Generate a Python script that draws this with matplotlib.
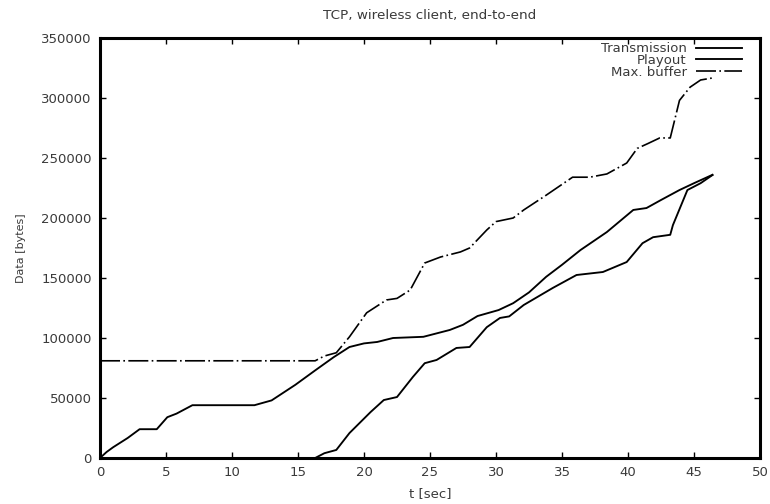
import matplotlib
matplotlib.use("Agg")
from matplotlib import pyplot as plt

# values (t in seconds, data in bytes)
trans_t = [0, 0.5, 1, 2.1, 3.0, 4.3, 5.1, 5.8, 7.0, 11.7, 13.0, 14.8, 16.3, 17.7,
           18.9, 20.0, 21.0, 22.2, 24.5, 26.5, 27.5, 28.6, 30.2, 31.3, 32.5, 33.8,
           35.0, 36.4, 38.4, 40.4, 41.4, 42.5, 43.9, 45.0, 46.4]
trans_v = [0, 5000, 9000, 16700, 24000, 24000, 34000, 37000, 44000, 44000, 48000,
           61000, 73000, 84000, 92500, 95500, 96700, 100000, 101000, 106700, 111000,
           118300, 123300, 129000, 138000, 151000, 161000, 173300, 188300, 206700,
           208300, 215000, 223300, 229000, 236000]

play_t = [16.3, 17.0, 17.9, 18.9, 20.5, 21.5, 22.5, 23.7, 24.6, 25.5, 27.0, 28.0,
          29.3, 30.3, 31.0, 32.1, 34.3, 36.1, 38.1, 39.9, 41.1, 41.9, 43.2, 43.4,
          44.5, 45.5, 46.4]
play_v = [0, 4000, 6700, 20800, 38300, 48300, 50800, 67500, 79000, 81700, 91700,
          92500, 109000, 116700, 118000, 127500, 141700, 152500, 155000, 163300,
          179000, 184000, 186000, 194000, 223300, 229000, 235800]

maxbuf_t = [0, 16.3, 17.0, 17.9, 18.9, 20.2, 21.7, 22.5, 23.5, 24.6, 25.8, 27.3,
            28.0, 29.3, 30.0, 31.3, 32.1, 33.8, 35.8, 37.1, 38.4, 39.9, 40.7, 41.5,
            42.4, 43.2, 43.9, 44.7, 45.5, 46.4]
maxbuf_v = [81000, 81000, 85000, 87700, 101000, 121000, 131700, 133000, 140000,
            162500, 167500, 171700, 175000, 190000, 197000, 200000, 206700, 219000,
            234000, 234000, 236700, 245800, 258000, 262000, 266700, 266700, 298000,
            309000, 315000, 316700]

x_ticks = list(range(0, 55, 5))
y_ticks = list(range(0, 350001, 50000))

plt.rcParams['font.family'] = ['DejaVu Sans']
plt.rcParams['font.size'] = 9.5
text_col = '#3a3a3a'

fig = plt.figure(figsize=(7.7, 5.04), dpi=100)
ax = fig.add_axes([100 / 770, 1 - 458 / 504, 660 / 770, 420 / 504])

ax.plot(trans_t, trans_v, color='black', lw=1.35, label='Transmission')
ax.plot(play_t, play_v, color='black', lw=1.35, label='Playout')
ax.plot(maxbuf_t, maxbuf_v, color='black', lw=1.2, dashes=(12, 2, 1, 2),
        label='Max. buffer')

ax.set_xlim(0, 50)
ax.set_ylim(0, 350000)
ax.set_xticks(x_ticks)
ax.set_yticks(y_ticks)
ax.set_xticklabels([str(v) for v in x_ticks])
ax.set_yticklabels([str(v) for v in y_ticks])
ax.tick_params(direction='in', length=4.5, width=1, top=True, right=True,
               labelcolor=text_col, labelsize=9.5)
ax.tick_params(axis='x', pad=6)
ax.tick_params(axis='y', pad=6)
for s in ax.spines.values():
    s.set_linewidth(2.2)

ax.set_title('TCP, wireless client, end-to-end', color=text_col, pad=14,
             fontsize=9.7)
ax.set_xlabel('t [sec]', color=text_col, fontsize=9.5)
ax.set_ylabel('Data [bytes]', color=text_col, fontsize=8)
ax.xaxis.set_label_coords(0.5, -0.069)
ax.yaxis.set_label_coords(-0.112, 0.5)

leg = ax.legend(loc='upper right', markerfirst=False, frameon=False,
                handlelength=3.5, handletextpad=0.7, labelspacing=-0.1,
                borderpad=0, borderaxespad=0, bbox_to_anchor=(0.973, 0.99),
                fontsize=9.5)
for t in leg.get_texts():
    t.set_color(text_col)

fig.savefig('out.png', dpi=100)
